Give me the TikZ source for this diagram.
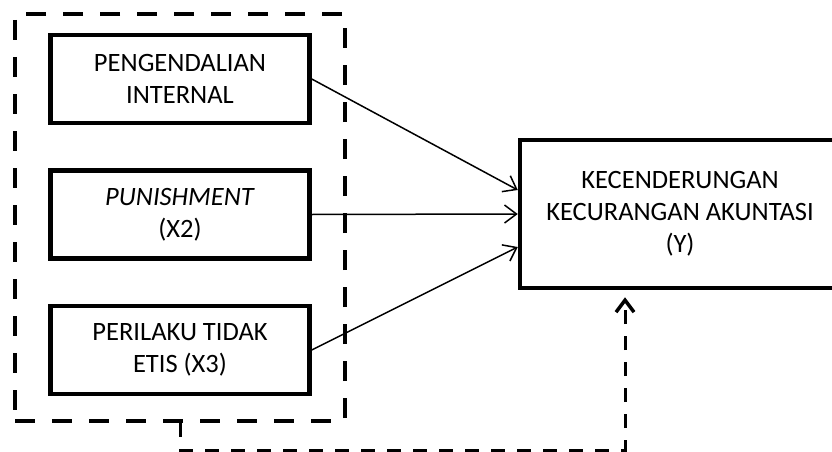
\documentclass[tikz,border=0pt]{standalone}
\usepackage{fontspec}
\setmainfont{Carlito}
\usetikzlibrary{arrows.meta, positioning, calc}
\tikzset{
    varbox/.style={rectangle, draw, line width=4.5pt, minimum width=259pt, minimum height=88pt, align=center},
    depbox/.style={rectangle, draw, line width=4.5pt, minimum width=320pt, minimum height=148pt, align=center},
    groupbox/.style={rectangle, draw, line width=4pt, dash pattern=on 20pt off 17pt, minimum width=330pt, minimum height=407pt},
    effect/.style={-{Straight Barb[length=12pt, width=18pt]}, line width=1.5pt},
    joint/.style={-{Straight Barb[length=12pt, width=18pt, line width=3.5pt]}, line width=3pt, dash pattern=on 14pt off 12pt, shorten >=7pt}
}

\begin{document}
\begin{tikzpicture}[x=1pt, y=-1pt, node distance=43pt, every node/.style={font=\fontsize{26.5}{32}\selectfont}]
        \useasboundingbox (0,0) rectangle (832,452);
        \node[varbox] (pi) at (180,79) {PENGENDALIAN\\INTERNAL};
        \node[varbox, below=of pi] (pun) {\textit{PUNISHMENT}\\(X2)};
        \node[varbox, below=of pun] (etis) {PERILAKU TIDAK\\ETIS (X3)};
        \node[groupbox] (grp) at (180,217.5) {};
        \node[depbox] (kka) at (680,214) {KECENDERUNGAN\\KECURANGAN AKUNTASI\\(Y)};
        \draw[effect] (pi.east) -- ([yshift=24pt]kka.west);
        \draw[effect] (pun.east) -- (kka.west);
        \draw[effect] (etis.east) -- ([yshift=-33pt]kka.west);
        \draw[joint] (grp.south) -- ++(0,27) -| ([xshift=-55pt]kka.south);
    \end{tikzpicture}
\end{document}
